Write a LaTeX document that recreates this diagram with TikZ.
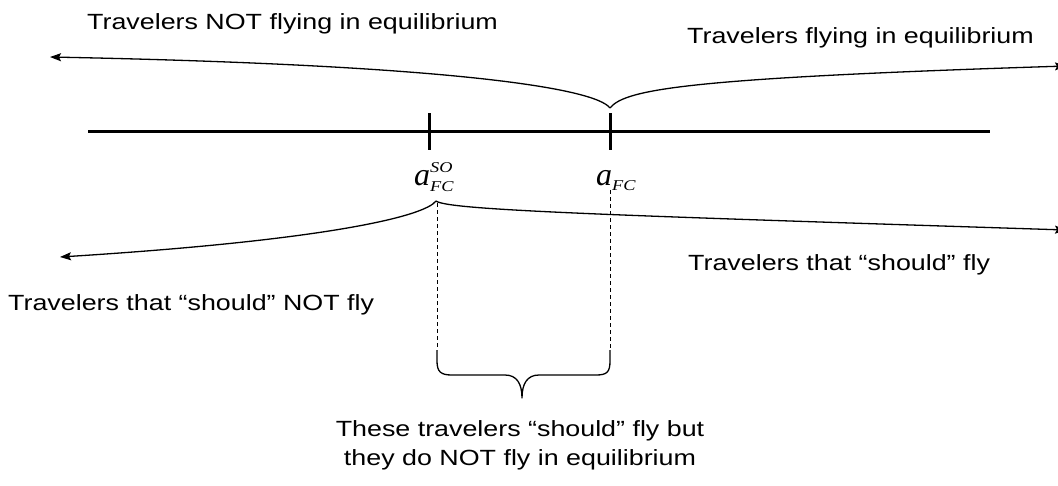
\documentclass[tikz,border=0pt]{standalone}
\usepackage{fontspec}
\setmainfont{Liberation Sans}
\newfontfamily\seriffont{Liberation Serif}
\usetikzlibrary{arrows.meta}
\newcommand{\hstr}[1]{\scalebox{1.22}[1]{#1}}
\tikzset{
  lbl/.style={inner sep=0pt, font=\fontsize{22}{26}\selectfont},
  axis/.style={line width=3pt},
  curve/.style={line width=1.3pt, -{Stealth[length=11pt,width=8pt,inset=2pt]}},
  guide/.style={line width=0.9pt, dash pattern=on 4pt off 3pt},
  bracepath/.style={line width=1.3pt, line join=round}
}
\begin{document}
\begin{tikzpicture}[x=1pt,y=-1pt]
\useasboundingbox (0,0) rectangle (1058,485);
\clip (0,0) rectangle (1058,485);
\fill[white] (0,0) rectangle (1058,485);

% axis and ticks
\coordinate (axL) at (88,131);
\coordinate (axR) at (990,131);
\draw[axis] (axL) -- (axR);
\coordinate (t1a) at (429,113); \coordinate (t1b) at (429,150);
\coordinate (t2a) at (610,113); \coordinate (t2b) at (610,150);
\draw[axis] (t1a) -- (t1b);
\draw[axis] (t2a) -- (t2b);

% labels a
\node[inner sep=0pt, anchor=base west] (aso) at (414,185)
  {\seriffont\itshape\fontsize{32}{32}\selectfont a\fontsize{15}{15}\selectfont\rlap{\raisebox{12.5pt}{\hstr{SO}}}\raisebox{-6pt}{\hstr{FC}}};
\node[inner sep=0pt, anchor=base west] (afc) at (596,185)
  {\seriffont\itshape\fontsize{32}{32}\selectfont a\fontsize{15}{15}\selectfont\raisebox{-5pt}{\hstr{FC}}};

% top texts
\node[lbl, anchor=base west] (tnot) at (87,29) {\hstr{Travelers NOT flying in equilibrium}};
\node[lbl, anchor=base west] (tfly) at (687,43) {\hstr{Travelers flying in equilibrium}};

% top curves
\coordinate (cT) at (610,108);
\coordinate (eTL) at (50,57);
\coordinate (eTR) at (1066,66);
\draw[curve] (cT) .. controls (595,88) and (450,65) .. (eTL);
\draw[curve] (cT) .. controls (625,89) and (690,78) .. (eTR);

% lower curves
\coordinate (cB) at (436,201);
\coordinate (eBL) at (60,257);
\coordinate (eBR) at (1066,230);
\draw[curve] (cB) .. controls (425,216) and (330,240) .. (eBL);
\draw[curve] (cB) .. controls (448,210) and (600,215) .. (eBR);

% lower texts
\node[lbl, anchor=base west] (bfly) at (688,270) {\hstr{Travelers that “should” fly}};
\node[lbl, anchor=base west] (bnot) at (8,310) {\hstr{Travelers that “should” NOT fly}};

% dashed guides
\coordinate (d1a) at (437,203); \coordinate (d1b) at (437,350);
\coordinate (d2a) at (610,190); \coordinate (d2b) at (610,350);
\draw[guide] (d1a) -- (d1b);
\draw[guide] (d2a) -- (d2b);

% brace
\coordinate (btip) at (522,398);
\draw[bracepath] (d1b) -- (437,361) .. controls (437,372) and (441,375) .. (452,375)
  -- (505,375) .. controls (517,375) and (522,384) .. (btip)
  .. controls (522,384) and (527,375) .. (539,375) -- (596,375)
  .. controls (607,375) and (610,372) .. (610,361) -- (d2b);

% bottom text
\node[lbl, anchor=base] (bot1) at (520,436) {\hstr{These travelers “should” fly but}};
\node[lbl, anchor=base] (bot2) at (520,465) {\hstr{they do NOT fly in equilibrium}};
\end{tikzpicture}
\end{document}
